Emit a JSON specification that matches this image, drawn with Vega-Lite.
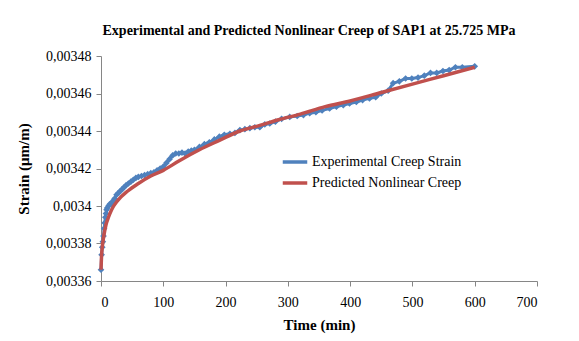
{
  "$schema": "https://vega.github.io/schema/vega-lite/v6.json",
  "width": 436,
  "height": 225,
  "autosize": {"type": "none"},
  "padding": {"left": 101, "top": 56, "right": 42, "bottom": 60},
  "background": "white",
  "title": {
    "text": "Experimental and Predicted Nonlinear Creep of SAP1 at 25.725 MPa",
    "font": "Liberation Serif",
    "fontSize": 14,
    "fontWeight": "bold",
    "color": "#000000",
    "anchor": "middle",
    "frame": "group",
    "offset": 11,
    "dx": -10
  },
  "config": {
    "view": {"stroke": null},
    "axis": {
      "labelFont": "Liberation Serif",
      "labelFontSize": 14,
      "labelColor": "#000000",
      "titleFont": "Liberation Serif",
      "titleFontSize": 15,
      "titleFontWeight": "bold",
      "titleColor": "#000000",
      "domainColor": "#868686",
      "tickColor": "#868686",
      "grid": false
    }
  },
  "datasets": {
    "creep": [
      {"time": 0, "strain": 0.003366, "series": "Experimental Creep Strain"},
      {"time": 1, "strain": 0.003374, "series": "Experimental Creep Strain"},
      {"time": 2, "strain": 0.003378, "series": "Experimental Creep Strain"},
      {"time": 3, "strain": 0.003381, "series": "Experimental Creep Strain"},
      {"time": 4, "strain": 0.003384, "series": "Experimental Creep Strain"},
      {"time": 5, "strain": 0.003388, "series": "Experimental Creep Strain"},
      {"time": 6, "strain": 0.003391, "series": "Experimental Creep Strain"},
      {"time": 7, "strain": 0.003394, "series": "Experimental Creep Strain"},
      {"time": 8, "strain": 0.003396, "series": "Experimental Creep Strain"},
      {"time": 9, "strain": 0.003398, "series": "Experimental Creep Strain"},
      {"time": 10, "strain": 0.003399, "series": "Experimental Creep Strain"},
      {"time": 12, "strain": 0.0034, "series": "Experimental Creep Strain"},
      {"time": 14, "strain": 0.003401, "series": "Experimental Creep Strain"},
      {"time": 16, "strain": 0.003401, "series": "Experimental Creep Strain"},
      {"time": 18, "strain": 0.003402, "series": "Experimental Creep Strain"},
      {"time": 20, "strain": 0.003403, "series": "Experimental Creep Strain"},
      {"time": 22, "strain": 0.003404, "series": "Experimental Creep Strain"},
      {"time": 25, "strain": 0.003406, "series": "Experimental Creep Strain"},
      {"time": 28, "strain": 0.003407, "series": "Experimental Creep Strain"},
      {"time": 31, "strain": 0.003408, "series": "Experimental Creep Strain"},
      {"time": 34, "strain": 0.003409, "series": "Experimental Creep Strain"},
      {"time": 37, "strain": 0.00341, "series": "Experimental Creep Strain"},
      {"time": 40, "strain": 0.003411, "series": "Experimental Creep Strain"},
      {"time": 44, "strain": 0.003412, "series": "Experimental Creep Strain"},
      {"time": 48, "strain": 0.003413, "series": "Experimental Creep Strain"},
      {"time": 52, "strain": 0.003414, "series": "Experimental Creep Strain"},
      {"time": 56, "strain": 0.003415, "series": "Experimental Creep Strain"},
      {"time": 60, "strain": 0.0034155, "series": "Experimental Creep Strain"},
      {"time": 65, "strain": 0.003416, "series": "Experimental Creep Strain"},
      {"time": 70, "strain": 0.0034165, "series": "Experimental Creep Strain"},
      {"time": 75, "strain": 0.003417, "series": "Experimental Creep Strain"},
      {"time": 80, "strain": 0.0034175, "series": "Experimental Creep Strain"},
      {"time": 85, "strain": 0.003418, "series": "Experimental Creep Strain"},
      {"time": 90, "strain": 0.003419, "series": "Experimental Creep Strain"},
      {"time": 95, "strain": 0.00342, "series": "Experimental Creep Strain"},
      {"time": 100, "strain": 0.003421, "series": "Experimental Creep Strain"},
      {"time": 105, "strain": 0.003423, "series": "Experimental Creep Strain"},
      {"time": 110, "strain": 0.003425, "series": "Experimental Creep Strain"},
      {"time": 115, "strain": 0.003427, "series": "Experimental Creep Strain"},
      {"time": 120, "strain": 0.003428, "series": "Experimental Creep Strain"},
      {"time": 125, "strain": 0.003428, "series": "Experimental Creep Strain"},
      {"time": 130, "strain": 0.0034285, "series": "Experimental Creep Strain"},
      {"time": 135, "strain": 0.003428, "series": "Experimental Creep Strain"},
      {"time": 140, "strain": 0.003429, "series": "Experimental Creep Strain"},
      {"time": 145, "strain": 0.0034295, "series": "Experimental Creep Strain"},
      {"time": 150, "strain": 0.00343, "series": "Experimental Creep Strain"},
      {"time": 158, "strain": 0.0034315, "series": "Experimental Creep Strain"},
      {"time": 166, "strain": 0.003433, "series": "Experimental Creep Strain"},
      {"time": 174, "strain": 0.003434, "series": "Experimental Creep Strain"},
      {"time": 182, "strain": 0.0034355, "series": "Experimental Creep Strain"},
      {"time": 190, "strain": 0.003437, "series": "Experimental Creep Strain"},
      {"time": 198, "strain": 0.003438, "series": "Experimental Creep Strain"},
      {"time": 207, "strain": 0.0034385, "series": "Experimental Creep Strain"},
      {"time": 215, "strain": 0.003439, "series": "Experimental Creep Strain"},
      {"time": 223, "strain": 0.0034405, "series": "Experimental Creep Strain"},
      {"time": 231, "strain": 0.003441, "series": "Experimental Creep Strain"},
      {"time": 239, "strain": 0.0034415, "series": "Experimental Creep Strain"},
      {"time": 247, "strain": 0.003442, "series": "Experimental Creep Strain"},
      {"time": 255, "strain": 0.003442, "series": "Experimental Creep Strain"},
      {"time": 263, "strain": 0.0034435, "series": "Experimental Creep Strain"},
      {"time": 271, "strain": 0.003444, "series": "Experimental Creep Strain"},
      {"time": 280, "strain": 0.003445, "series": "Experimental Creep Strain"},
      {"time": 290, "strain": 0.0034465, "series": "Experimental Creep Strain"},
      {"time": 303, "strain": 0.0034475, "series": "Experimental Creep Strain"},
      {"time": 315, "strain": 0.003448, "series": "Experimental Creep Strain"},
      {"time": 325, "strain": 0.0034485, "series": "Experimental Creep Strain"},
      {"time": 335, "strain": 0.0034495, "series": "Experimental Creep Strain"},
      {"time": 345, "strain": 0.00345, "series": "Experimental Creep Strain"},
      {"time": 355, "strain": 0.003451, "series": "Experimental Creep Strain"},
      {"time": 367, "strain": 0.003452, "series": "Experimental Creep Strain"},
      {"time": 378, "strain": 0.003453, "series": "Experimental Creep Strain"},
      {"time": 389, "strain": 0.0034538, "series": "Experimental Creep Strain"},
      {"time": 399, "strain": 0.0034547, "series": "Experimental Creep Strain"},
      {"time": 410, "strain": 0.0034555, "series": "Experimental Creep Strain"},
      {"time": 420, "strain": 0.0034565, "series": "Experimental Creep Strain"},
      {"time": 431, "strain": 0.0034574, "series": "Experimental Creep Strain"},
      {"time": 441, "strain": 0.003458, "series": "Experimental Creep Strain"},
      {"time": 450, "strain": 0.00346, "series": "Experimental Creep Strain"},
      {"time": 461, "strain": 0.0034615, "series": "Experimental Creep Strain"},
      {"time": 469, "strain": 0.0034655, "series": "Experimental Creep Strain"},
      {"time": 479, "strain": 0.0034665, "series": "Experimental Creep Strain"},
      {"time": 489, "strain": 0.003468, "series": "Experimental Creep Strain"},
      {"time": 499, "strain": 0.003468, "series": "Experimental Creep Strain"},
      {"time": 509, "strain": 0.0034685, "series": "Experimental Creep Strain"},
      {"time": 519, "strain": 0.0034695, "series": "Experimental Creep Strain"},
      {"time": 529, "strain": 0.003471, "series": "Experimental Creep Strain"},
      {"time": 539, "strain": 0.003471, "series": "Experimental Creep Strain"},
      {"time": 549, "strain": 0.003472, "series": "Experimental Creep Strain"},
      {"time": 559, "strain": 0.0034725, "series": "Experimental Creep Strain"},
      {"time": 569, "strain": 0.003474, "series": "Experimental Creep Strain"},
      {"time": 580, "strain": 0.003474, "series": "Experimental Creep Strain"},
      {"time": 600, "strain": 0.0034745, "series": "Experimental Creep Strain"},
      {"time": 0, "strain": 0.003366, "series": "Predicted Nonlinear Creep"},
      {"time": 1, "strain": 0.003374, "series": "Predicted Nonlinear Creep"},
      {"time": 2, "strain": 0.003378, "series": "Predicted Nonlinear Creep"},
      {"time": 4, "strain": 0.003383, "series": "Predicted Nonlinear Creep"},
      {"time": 8, "strain": 0.00339, "series": "Predicted Nonlinear Creep"},
      {"time": 12, "strain": 0.003394, "series": "Predicted Nonlinear Creep"},
      {"time": 17, "strain": 0.003398, "series": "Predicted Nonlinear Creep"},
      {"time": 27, "strain": 0.003403, "series": "Predicted Nonlinear Creep"},
      {"time": 43, "strain": 0.003408, "series": "Predicted Nonlinear Creep"},
      {"time": 60, "strain": 0.003412, "series": "Predicted Nonlinear Creep"},
      {"time": 80, "strain": 0.003416, "series": "Predicted Nonlinear Creep"},
      {"time": 100, "strain": 0.003419, "series": "Predicted Nonlinear Creep"},
      {"time": 125, "strain": 0.003424, "series": "Predicted Nonlinear Creep"},
      {"time": 158, "strain": 0.00343, "series": "Predicted Nonlinear Creep"},
      {"time": 190, "strain": 0.003435, "series": "Predicted Nonlinear Creep"},
      {"time": 223, "strain": 0.00344, "series": "Predicted Nonlinear Creep"},
      {"time": 255, "strain": 0.003443, "series": "Predicted Nonlinear Creep"},
      {"time": 285, "strain": 0.003446, "series": "Predicted Nonlinear Creep"},
      {"time": 320, "strain": 0.003449, "series": "Predicted Nonlinear Creep"},
      {"time": 360, "strain": 0.003453, "series": "Predicted Nonlinear Creep"},
      {"time": 400, "strain": 0.003456, "series": "Predicted Nonlinear Creep"},
      {"time": 450, "strain": 0.0034605, "series": "Predicted Nonlinear Creep"},
      {"time": 500, "strain": 0.003465, "series": "Predicted Nonlinear Creep"},
      {"time": 550, "strain": 0.0034695, "series": "Predicted Nonlinear Creep"},
      {"time": 600, "strain": 0.003474, "series": "Predicted Nonlinear Creep"}
    ]
  },
  "data": {"name": "creep"},
  "encoding": {
    "x": {
      "field": "time",
      "type": "quantitative",
      "title": "Time (min)",
      "scale": {"domain": [0, 700], "nice": false},
      "axis": {
        "values": [0, 100, 200, 300, 400, 500, 600, 700],
        "tickSize": 5,
        "labelPadding": 9,
        "titlePadding": 8
      }
    },
    "y": {
      "field": "strain",
      "type": "quantitative",
      "title": "Strain (μm/m)",
      "scale": {"domain": [0.00336, 0.00348], "nice": false, "zero": false},
      "axis": {
        "values": [0.00336, 0.00338, 0.0034, 0.00342, 0.00344, 0.00346, 0.00348],
        "labelExpr": "replace(format(datum.value, '.5~f'), '.', ',')",
        "tickSize": 5,
        "labelPadding": 5,
        "titlePadding": 14
      }
    },
    "color": {
      "field": "series",
      "type": "nominal",
      "scale": {
        "domain": ["Experimental Creep Strain", "Predicted Nonlinear Creep"],
        "range": ["#4F81BD", "#C0504D"]
      },
      "legend": {
        "title": null,
        "orient": "none",
        "legendX": 180,
        "legendY": 92,
        "symbolType": "stroke",
        "symbolSize": 600,
        "symbolStrokeWidth": 3.5,
        "labelFont": "Liberation Serif",
        "labelFontSize": 14,
        "labelColor": "#000000",
        "rowPadding": 0,
        "labelOffset": 3
      }
    }
  },
  "layer": [
    {
      "transform": [{"filter": "datum.series === 'Experimental Creep Strain'"}],
      "mark": {"type": "line", "strokeWidth": 3}
    },
    {
      "transform": [{"filter": "datum.series === 'Experimental Creep Strain'"}],
      "mark": {"type": "point", "shape": "diamond", "filled": true, "size": 45, "opacity": 1}
    },
    {
      "transform": [{"filter": "datum.series === 'Predicted Nonlinear Creep'"}],
      "mark": {"type": "line", "strokeWidth": 3.5, "interpolate": "monotone"}
    }
  ]
}
